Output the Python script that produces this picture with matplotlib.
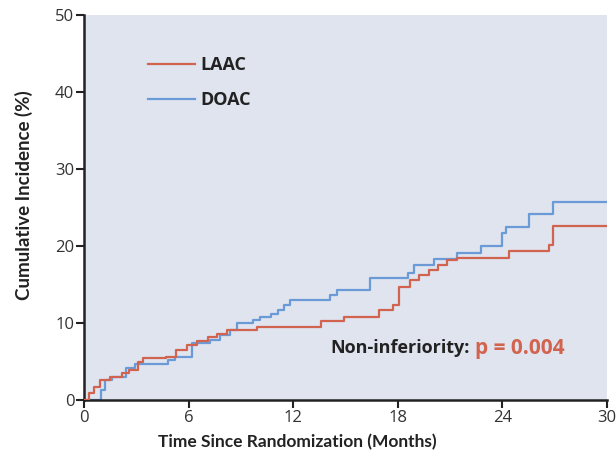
import matplotlib
matplotlib.use("Agg")
import matplotlib.pyplot as plt

# ---- data ----
laac_t = [0, 0.3, 0.6, 0.9, 1.5, 2.2, 2.6, 3.1, 3.4, 4.7, 5.3, 5.9, 6.5, 7.1, 7.6, 8.2, 9.9,
          13.6, 14.9, 16.9, 17.7, 18.05, 18.7, 19.2, 19.8, 20.3, 20.8, 21.4, 24.4, 26.7, 26.9, 30]
laac_v = [0, 0.9, 1.7, 2.6, 3.0, 3.5, 3.9, 4.9, 5.5, 5.6, 6.5, 7.1, 7.6, 8.2, 8.6, 9.1, 9.5,
          10.2, 10.8, 11.7, 12.3, 14.7, 15.6, 16.2, 16.9, 17.5, 18.2, 18.5, 19.3, 20.1, 22.6, 22.6]
doac_t = [0, 1.0, 1.2, 1.6, 2.4, 2.9, 4.8, 5.2, 6.2, 7.2, 7.8, 8.4, 8.8, 9.7, 10.1, 10.7, 11.1,
          11.5, 11.8, 14.1, 14.5, 16.4, 18.6, 18.9, 20.1, 21.4, 22.8, 24.0, 24.2, 25.5, 26.9, 30]
doac_v = [0, 1.3, 2.6, 3.0, 4.2, 4.7, 5.2, 5.6, 7.4, 7.8, 8.4, 9.1, 10.0, 10.4, 10.8, 11.2, 11.7,
          12.3, 13.0, 13.6, 14.3, 15.8, 16.5, 17.5, 18.3, 19.1, 20.0, 21.7, 22.5, 24.2, 25.7, 25.7]
series_names = ["LAAC", "DOAC"]
x_ticks = [0, 6, 12, 18, 24, 30]
y_ticks = [0, 10, 20, 30, 40, 50]

RED = "#d2634f"
BLUE = "#6b9bd6"
BG = "#dfe4ef"
DARK = "#222222"
FONT = ["Lato", "Open Sans", "DejaVu Sans"]
FONT2 = ["Open Sans", "DejaVu Sans"]

plt.rcParams["font.family"] = FONT2

fig = plt.figure(figsize=(6.16, 4.58), dpi=100)
ax = fig.add_axes([0.1364, 0.1266, 0.849, 0.841])
ax.set_facecolor(BG)

ax.step(laac_t, laac_v, where="post", color=RED, lw=1.6, label=series_names[0], zorder=3)
ax.step(doac_t, doac_v, where="post", color=BLUE, lw=1.6, label=series_names[1], zorder=2)

ax.set_xlim(0, 30)
ax.set_ylim(0, 50)
ax.set_xticks(x_ticks)
ax.set_yticks(y_ticks)
ax.tick_params(axis="both", direction="out", length=6, width=1.5, color=DARK,
               labelsize=12, labelcolor="#333333", pad=1)

for s in ["top", "right"]:
    ax.spines[s].set_visible(False)
for s in ["left", "bottom"]:
    ax.spines[s].set_linewidth(1.8)
    ax.spines[s].set_color(DARK)

ax.set_xlabel("Time Since Randomization (Months)", fontsize=12.5, fontweight="bold",
              color=DARK, family=FONT)
ax.xaxis.set_label_coords(0.407, -0.088)
ax.set_ylabel("Cumulative Incidence (%)", fontsize=13.5, fontweight="bold",
              color=DARK, family=FONT)
ax.yaxis.set_label_coords(-0.098, 0.532)

leg = ax.legend(loc="upper left", bbox_to_anchor=(0.092, 0.935), frameon=False,
                handlelength=2.6, handletextpad=0.3, labelspacing=0.95,
                prop={"family": FONT2, "weight": "bold", "size": 13})
for t in leg.get_texts():
    t.set_color(DARK)

ax.text(0.738, 0.135, "Non-inferiority:", transform=ax.transAxes, ha="right", va="center",
        fontsize=13, fontweight="bold", color=DARK)
ax.text(0.747, 0.135, "p = 0.004", transform=ax.transAxes, ha="left", va="center",
        fontsize=15, fontweight="bold", color=RED)

fig.savefig("out.png", dpi=100, facecolor="white")
